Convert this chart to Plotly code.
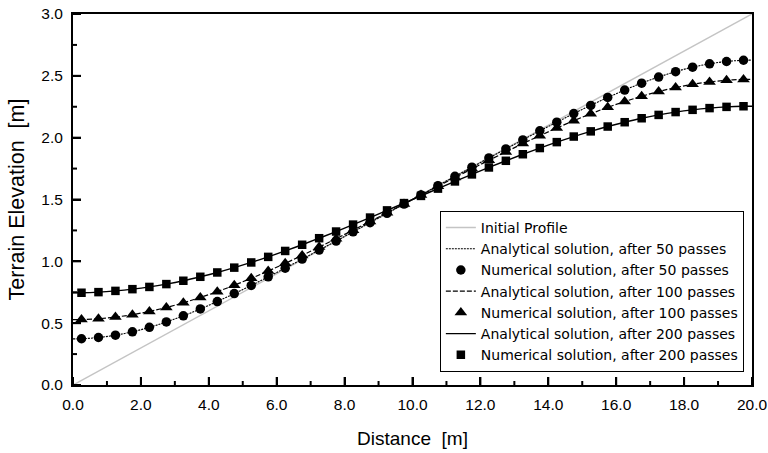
import plotly.graph_objects as go

# Marker positions (m)
x_num = [0.25 + 0.5 * i for i in range(40)]
# Analytical curve positions (m): ends plus the marker positions
x_ana = [0.0] + x_num + [20.0]

initial_x = [0.0, 20.0]
initial_y = [0.0, 3.0]

num_50 = [0.374, 0.384, 0.403, 0.430, 0.466, 0.510, 0.559, 0.615, 0.675, 0.739,
          0.805, 0.875, 0.945, 1.018, 1.091, 1.164, 1.239, 1.313, 1.388, 1.463,
          1.537, 1.612, 1.687, 1.761, 1.836, 1.909, 1.982, 2.055, 2.125, 2.195,
          2.261, 2.325, 2.385, 2.441, 2.490, 2.534, 2.570, 2.597, 2.616, 2.626]
num_100 = [0.529, 0.536, 0.549, 0.569, 0.595, 0.627, 0.665, 0.708, 0.755, 0.807,
           0.863, 0.922, 0.984, 1.048, 1.115, 1.183, 1.252, 1.322, 1.393, 1.464,
           1.536, 1.607, 1.678, 1.748, 1.817, 1.885, 1.952, 2.016, 2.078, 2.137,
           2.193, 2.245, 2.292, 2.335, 2.373, 2.405, 2.431, 2.451, 2.464, 2.471]
num_200 = [0.746, 0.751, 0.761, 0.775, 0.793, 0.816, 0.843, 0.875, 0.910, 0.949,
           0.991, 1.036, 1.084, 1.134, 1.187, 1.241, 1.297, 1.354, 1.412, 1.471,
           1.529, 1.588, 1.646, 1.703, 1.759, 1.813, 1.866, 1.916, 1.964, 2.009,
           2.051, 2.090, 2.125, 2.157, 2.184, 2.207, 2.225, 2.239, 2.249, 2.254]

ana_50 = [0.373] + num_50 + [2.627]
ana_100 = [0.528] + num_100 + [2.472]
ana_200 = [0.746] + num_200 + [2.254]

x_major = [0, 2, 4, 6, 8, 10, 12, 14, 16, 18, 20]
x_minor = [1, 3, 5, 7, 9, 11, 13, 15, 17, 19]
y_major = [0.0, 0.5, 1.0, 1.5, 2.0, 2.5, 3.0]
y_minor = [0.25, 0.75, 1.25, 1.75, 2.25, 2.75]

FONT = "Arial, Liberation Sans, sans-serif"
LEGEND_FONT = "DejaVu Sans, Arial, sans-serif"

fig = go.Figure()
fig.add_trace(go.Scatter(x=initial_x, y=initial_y, mode="lines",
                         line=dict(color="#c4c4c4", width=1.5), name="Initial Profile"))
fig.add_trace(go.Scatter(x=x_ana, y=ana_50, mode="lines",
                         line=dict(color="black", width=1.1, dash="2px,1px", shape="spline"),
                         name="Analytical solution, after 50 passes"))
fig.add_trace(go.Scatter(x=x_num, y=num_50, mode="markers",
                         marker=dict(symbol="circle", size=9.5, color="black"),
                         name="Numerical solution, after 50 passes"))
fig.add_trace(go.Scatter(x=x_ana, y=ana_100, mode="lines",
                         line=dict(color="black", width=1.2, dash="5px,2px", shape="spline"),
                         name="Analytical solution, after 100 passes"))
fig.add_trace(go.Scatter(x=x_num, y=num_100, mode="markers",
                         marker=dict(symbol="triangle-up", size=11, color="black"),
                         name="Numerical solution, after 100 passes"))
fig.add_trace(go.Scatter(x=x_ana, y=ana_200, mode="lines",
                         line=dict(color="black", width=1.4, shape="spline"),
                         name="Analytical solution, after 200 passes"))
fig.add_trace(go.Scatter(x=x_num, y=num_200, mode="markers",
                         marker=dict(symbol="square", size=8.5, color="black"),
                         name="Numerical solution, after 200 passes"))

# Inside tick marks, placed at the tick values on the data axes (length in pixels)
tick_line = dict(color="black", width=2)
for v in x_major + x_minor:
    fig.add_shape(type="line", xref="x", yref="y", ysizemode="pixel", yanchor=0,
                  x0=v, x1=v, y0=0, y1=(8 if v in x_major else 4),
                  line=tick_line, layer="above")
for v in y_major + y_minor:
    fig.add_shape(type="line", xref="x", yref="y", xsizemode="pixel", xanchor=0,
                  x0=0, x1=(8 if v in y_major else 4), y0=v, y1=v,
                  line=tick_line, layer="above")

fig.update_layout(
    width=768, height=453,
    margin=dict(l=73, r=16, t=14, b=68, autoexpand=False),
    paper_bgcolor="white", plot_bgcolor="white",
    font=dict(family=FONT, color="black", size=15),
    showlegend=True,
    legend=dict(x=0.988, y=0.035, xanchor="right", yanchor="bottom",
                bgcolor="white", bordercolor="black", borderwidth=1,
                font=dict(family=LEGEND_FONT, size=14, color="black"),
                tracegroupgap=0),
    xaxis=dict(range=[0, 20], showgrid=False, showline=True, linecolor="black",
               linewidth=2, mirror=True, ticks="inside", ticklen=8, tickwidth=2,
               tickcolor="black", tickvals=x_major, tickformat=".1f", tickfont=dict(size=15.5),
               ticklabelstandoff=4, zeroline=False, automargin=False,
               title=dict(text="Distance\u00a0 [m]", font=dict(size=19), standoff=20)),
    yaxis=dict(range=[0, 3], showgrid=False, showline=True, linecolor="black",
               linewidth=2, mirror=True, ticks="inside", ticklen=8, tickwidth=2,
               tickcolor="black", tickvals=y_major, tickformat=".1f", tickfont=dict(size=15.5),
               ticklabelstandoff=5, zeroline=False, automargin=False,
               title=dict(text="Terrain Elevation\u00a0 [m]", font=dict(size=21.5), standoff=11)),
)

fig.write_html("out.html")
